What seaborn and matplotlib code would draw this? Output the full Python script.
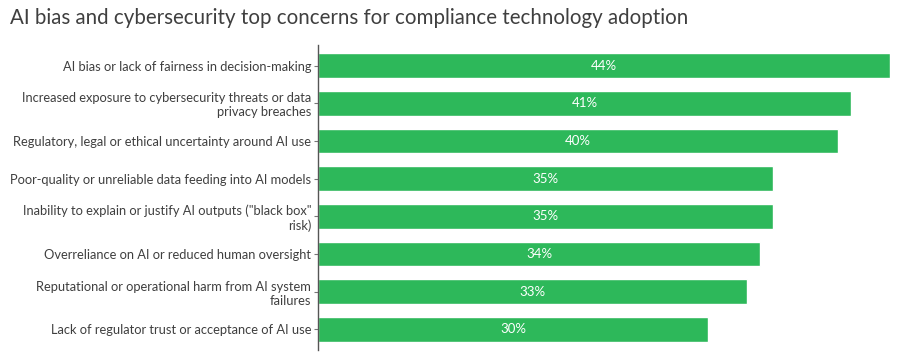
import matplotlib
matplotlib.use("Agg")
import matplotlib.pyplot as plt
import seaborn as sns
import pandas as pd

# chart data
concerns = [
    "AI bias or lack of fairness in decision-making",
    "Increased exposure to cybersecurity threats or data\nprivacy breaches",
    "Regulatory, legal or ethical uncertainty around AI use",
    "Poor-quality or unreliable data feeding into AI models",
    "Inability to explain or justify AI outputs (\"black box\"\nrisk)",
    "Overreliance on AI or reduced human oversight",
    "Reputational or operational harm from AI system\nfailures",
    "Lack of regulator trust or acceptance of AI use",
]
shares = [44, 41, 40, 35, 35, 34, 33, 30]

df = pd.DataFrame({"concern": concerns, "share": shares})

sns.set_theme(style="white")
plt.rcParams["font.family"] = ["Lato", "DejaVu Sans"]

GREEN = "#2db85a"
TEXT = "#3f3f3f"

fig = plt.figure(figsize=(9.04, 3.58), dpi=100)
ax = fig.add_axes([318 / 904, 8 / 358, 572 / 904, 305 / 358])

sns.barplot(data=df, x="share", y="concern", color=GREEN, width=0.66,
            saturation=1, ax=ax, orient="h")

for i, v in enumerate(shares):
    ax.text(v / 2, i, f"{v}%", color="white", ha="center", va="center",
            fontsize=9.5)

ax.set_xlim(0, 44)
ax.set_ylim(7.55, -0.55)
ax.set_xlabel("")
ax.set_ylabel("")
ax.set_xticks([])
sns.despine(ax=ax, top=True, right=True, bottom=True)
ax.spines["left"].set_color("#555555")
ax.spines["left"].set_linewidth(1)
ax.tick_params(axis="y", left=True, length=3, width=0.8, color="#777777",
               labelsize=9.3, labelcolor=TEXT, pad=2)

fig.text(10 / 904, 1 - 18 / 358, "AI bias and cybersecurity top concerns for compliance technology adoption",
         fontsize=14.8, color=TEXT, ha="left", va="center")

fig.savefig("out.png", dpi=100)
